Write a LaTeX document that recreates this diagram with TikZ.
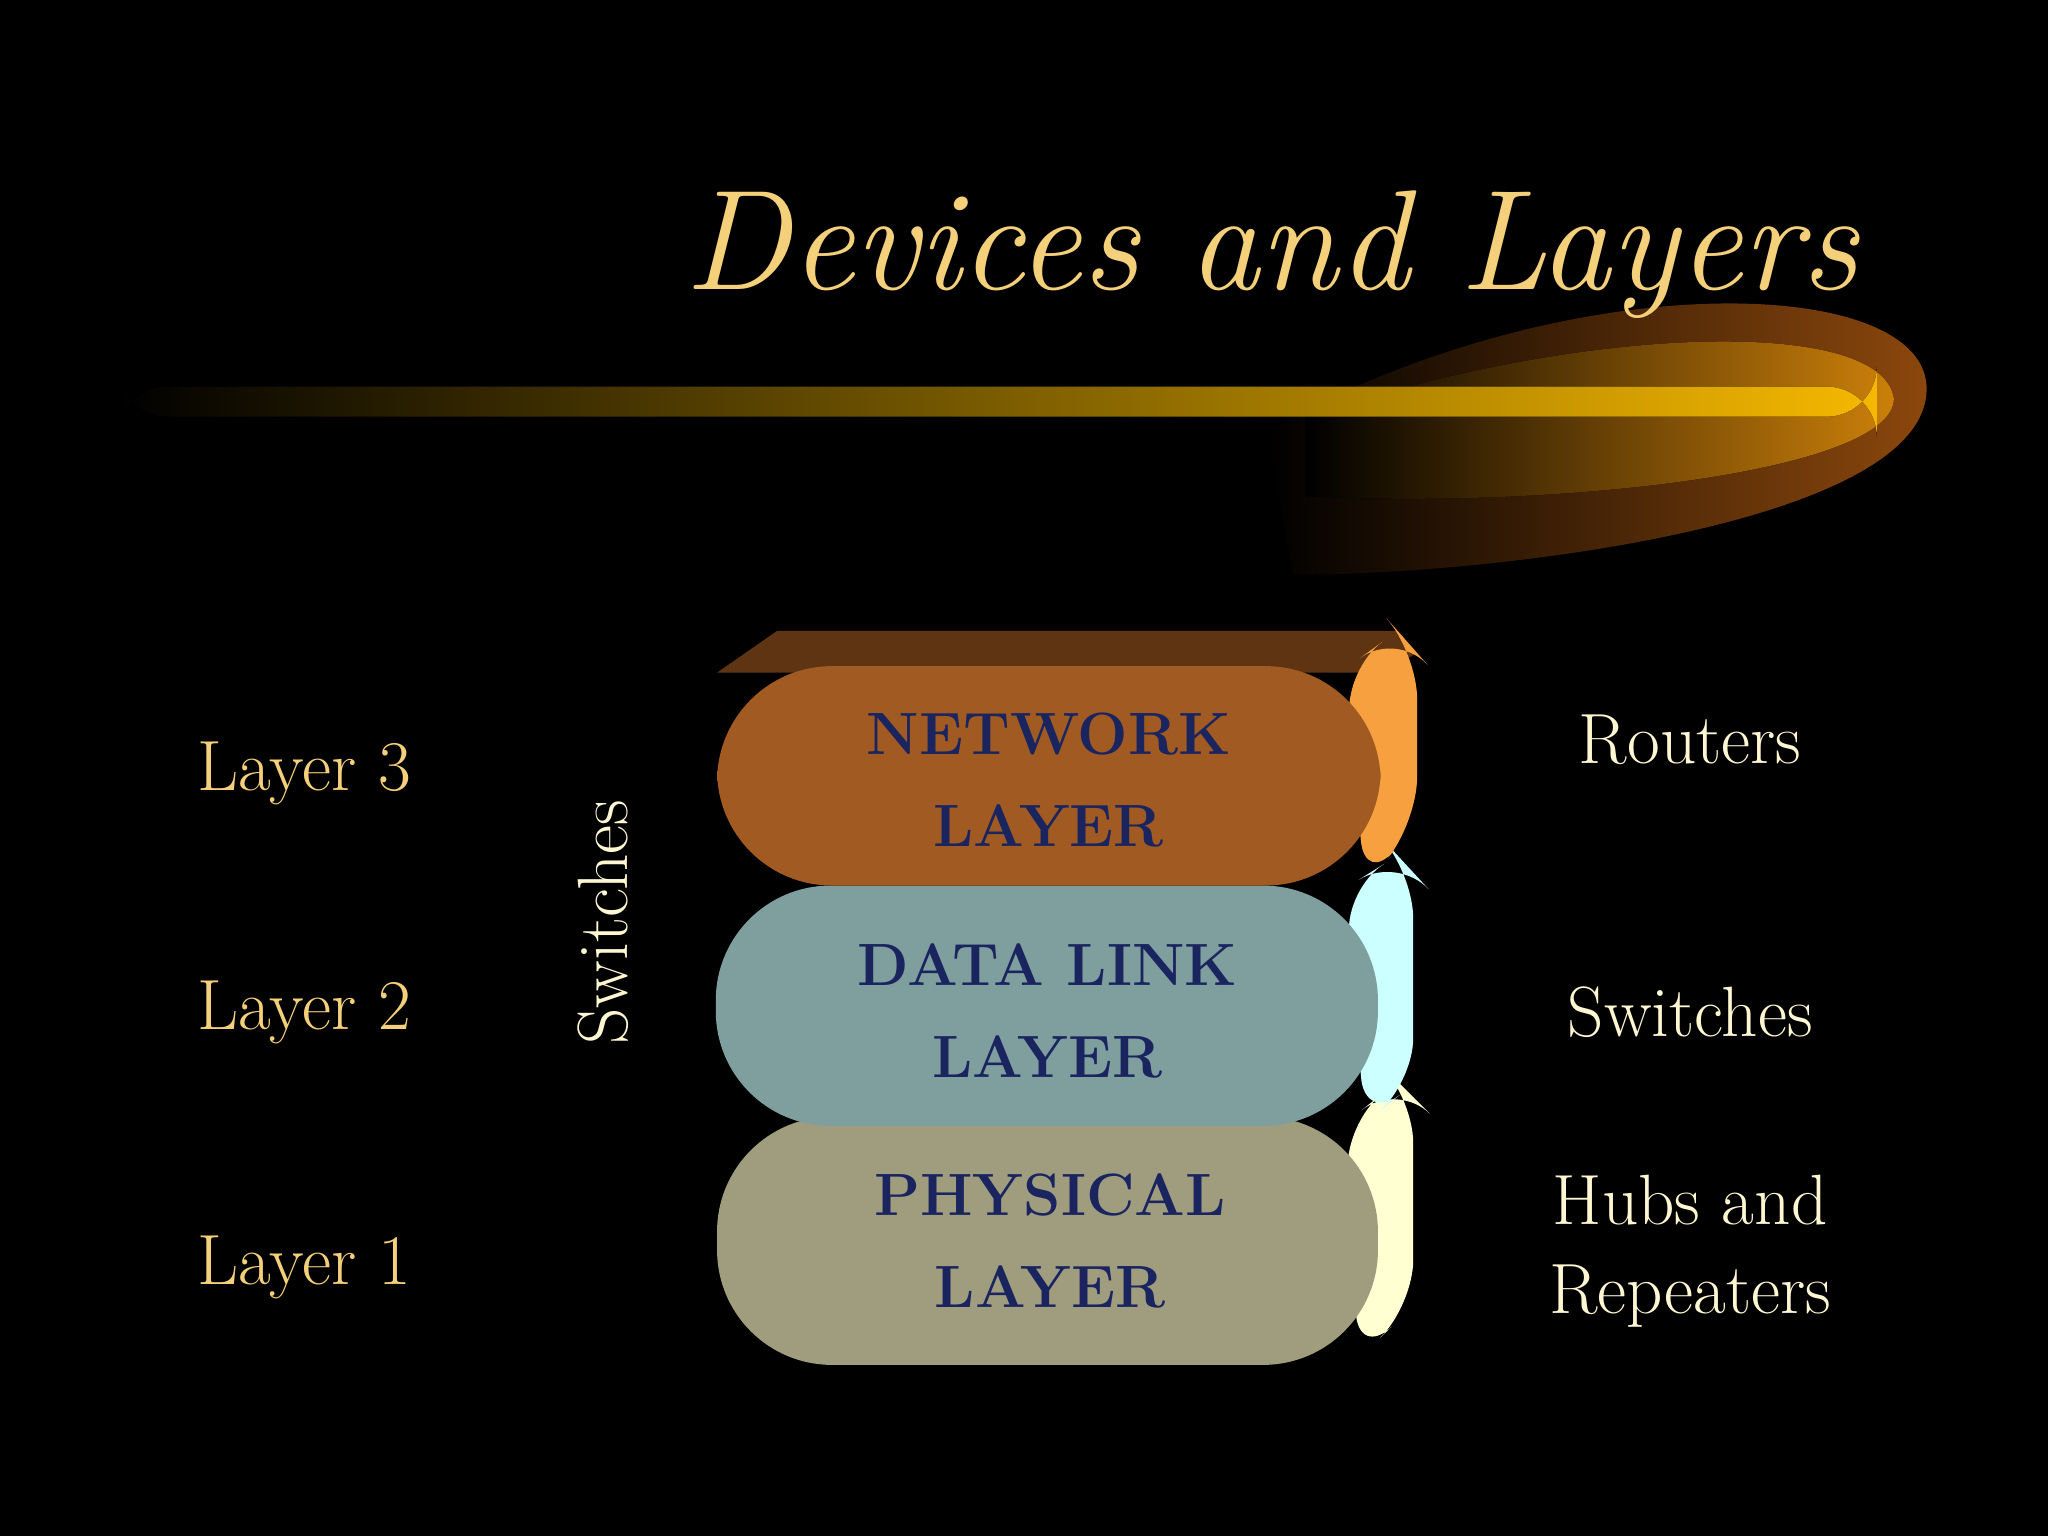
\documentclass[tikz,border=0pt]{standalone}
\begin{document}
\begin{tikzpicture}[x=0.01cm,y=-0.01cm,
 lab/.style={text=labc,font=\fontsize{15.5}{18}\selectfont},
 dev/.style={text=devc,font=\fontsize{15.5}{18}\selectfont,align=center},
 blk/.style={text=navy,font=\bfseries\fontsize{13}{20}\selectfont,align=center}]
\definecolor{labc}{HTML}{F5D07A}
\definecolor{devc}{HTML}{FFF6D2}
\definecolor{navy}{HTML}{1A2560}
\definecolor{gold}{HTML}{F5B800}
\definecolor{org}{HTML}{B05A10}
\fill[black] (0,0) rectangle (1568,1176);
\useasboundingbox (0,0) rectangle (1568,1176);
% swoosh glow
\fill[left color=black,right color=org!80!black] (970,330) .. controls (1200,200) and (1480,210) .. (1475,300) .. controls (1470,400) and (1150,440) .. (990,440) -- cycle;
\fill[left color=black,right color=org!60!gold] (1000,320) .. controls (1200,250) and (1440,240) .. (1450,305) .. controls (1450,360) and (1200,390) .. (1000,380) -- cycle;
\fill[left color=black,right color=gold,rounded corners=11] (90,296) rectangle (1437,319);
\node[text=labc,font=\itshape\fontsize{31}{36}\selectfont,anchor=east] (title) at (1435,195) {Devices and Layers};
% blocks
\definecolor{nf}{HTML}{A05A22}\definecolor{ns}{HTML}{F7A040}
\definecolor{df}{HTML}{7F9E9E}\definecolor{ds}{HTML}{CCFFFF}
\definecolor{pf}{HTML}{A09C7E}\definecolor{ps}{HTML}{FFFFD2}
\definecolor{tf}{HTML}{5E3412}
\fill[tf] (549,515) -- (595,483) -- (1070,483) -- (1085,500) -- (1057,515) -- cycle;
\fill[ps,rounded corners=10] (1030,860) -- (1070,828) -- (1082,840) -- (1082,1000) -- (1040,1040) -- cycle;
\fill[pf,rounded corners=25] (549,855) rectangle (1055,1045);
\fill[ds,rounded corners=10] (1030,680) -- (1070,655) -- (1082,668) -- (1082,830) -- (1045,860) -- cycle;
\fill[df,rounded corners=25] (548,678) rectangle (1055,862);
\fill[ns,rounded corners=10] (1030,512) -- (1070,483) -- (1085,500) -- (1085,630) -- (1045,678) -- cycle;
\fill[nf,rounded corners=25] (549,510) rectangle (1057,678);
\node[blk] (net) at (803,597) {NETWORK\\LAYER};
\node[blk] (dl) at (802,774) {DATA LINK\\LAYER};
\node[blk] (ph) at (804,950) {PHYSICAL\\LAYER};
\node[lab] (l3) at (233,592) {Layer 3};
\node[lab] (l2) at (233,775) {Layer 2};
\node[lab] (l1) at (233,970) {Layer 1};
\node[dev,rotate=90] (sw) at (462,706) {Switches};
\node[dev] (r) at (1294,566) {Routers};
\node[dev] (s) at (1294,775) {Switches};
\node[dev,font=\fontsize{15.5}{19.5}\selectfont] (h) at (1294,958) {Hubs and\\Repeaters};
\end{tikzpicture}
\end{document}
